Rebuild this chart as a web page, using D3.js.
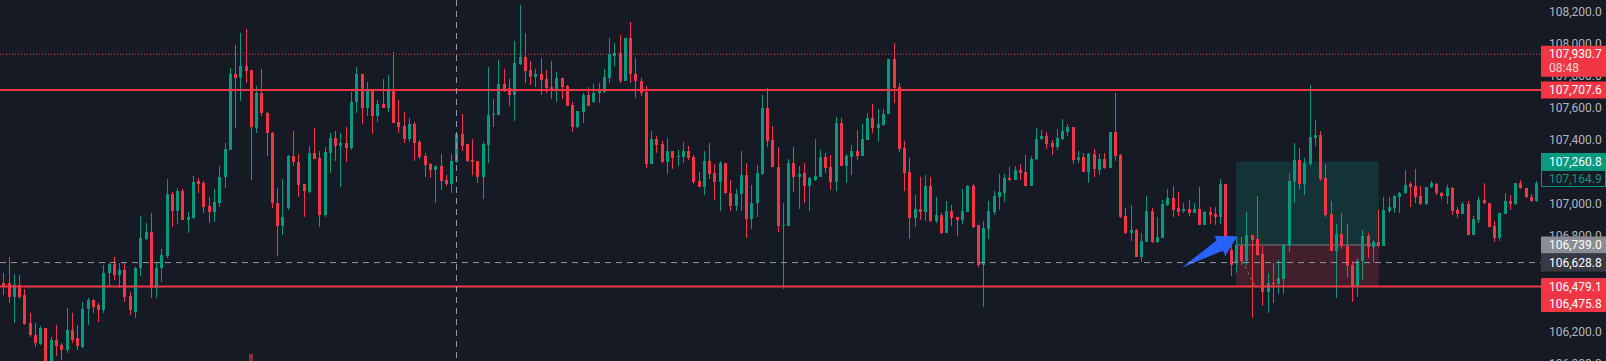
<!DOCTYPE html>
<html><head><meta charset="utf-8">
<script src="https://cdn.jsdelivr.net/npm/d3@7"></script>
<style>html,body{margin:0;padding:0;background:#161a25;overflow:hidden}</style>
</head><body><svg id="c" width="1606" height="361"></svg>
<script>
const openP=[106501,106501,106414,106489,106426,106251,106176,106120,106220,106005,
106145,106114,106083,106208,106158,106101,106339,106395,106364,106333,
106564,106620,106551,106583,106420,106320,106595,106776,106820,106470,
106595,106670,107058,106951,107076,106895,106908,107139,107126,106983,
106945,107001,107164,107333,107808,107783,107858,107833,107470,107689,
107564,107439,107001,106858,106970,107295,107258,107120,107070,107314,
107283,106926,107314,107408,107358,107376,107345,107633,107808,107595,
107708,107545,107620,107595,107714,107508,107483,107401,107495,107383,
107295,107245,107208,107233,107145,107120,107258,107433,107370,107270,
107264,107164,107364,107551,107551,107745,107720,107676,107870,107914,
107833,107789,107808,107776,107726,107708,107783,107733,107614,107476,
107570,107676,107633,107689,107695,107783,107920,107939,107764,108033,
107808,107764,107695,107245,107401,107370,107258,107326,107289,107289,
107326,107289,107139,107101,107264,107189,107133,107251,107064,106983,
107058,107176,106901,107001,107183,107595,107395,107226,106858,106858,
107251,107164,107189,107108,107145,107164,107289,107226,107133,107501,
107233,107289,107326,107295,107395,107533,107470,107489,107558,107901,
107726,107345,107195,106908,106964,106945,107108,106889,106926,106814,
106951,106914,106895,106945,107108,106864,106614,106839,106945,107039,
107064,107158,107145,107208,107195,107108,107276,107401,107420,107376,
107351,107401,107445,107476,107270,107289,107195,107308,107208,107276,
107220,107445,107301,106920,106814,106833,106664,106758,106951,106758,
106783,106989,107033,106970,106951,106964,106939,106964,106864,106945,
106933,106914,107120,106708,106626,106733,106639,106801,106776,106683,
106445,106501,106495,106526,106733,107133,107270,107120,107245,107408,
107426,107158,106933,106701,106808,106733,106614,106483,106639,106795,
106726,106758,106733,106951,106970,107039,107064,107120,107108,107045,
106995,107101,107120,107064,107045,107095,106958,106933,106995,106801,
106895,107020,107001,106858,106783,106933,107014,106995,107126,107095,
107039,107014];
const highP=[106564,106664,106558,106551,106464,106314,106251,106233,106220,106164,
106239,106126,106345,106314,106239,106383,106408,106401,106376,106614,
106626,106664,106626,106626,106445,106601,106920,106876,106939,106626,
106714,107151,107070,107095,107089,106945,107170,107158,107139,107039,
107089,107233,107376,107845,107989,108064,108089,107833,107733,107839,
107570,107445,107095,107151,107301,107451,107308,107120,107358,107470,
107326,107351,107439,107451,107439,107476,107695,107851,107808,107758,
107708,107645,107776,107801,107945,107645,107570,107533,107508,107395,
107314,107251,107233,107308,107176,107308,107439,107558,107370,107401,
107264,107383,107851,107651,107895,107839,107776,108014,108239,108064,
107889,107839,107908,107833,107889,107820,107783,107739,107633,107576,
107689,107726,107745,107751,107839,108033,108001,108051,108033,108133,
107908,107783,107733,107451,107420,107389,107408,107326,107333,107383,
107358,107301,107195,107326,107376,107245,107264,107251,107145,107089,
107326,107251,107114,107239,107676,107720,107483,107351,107001,107276,
107351,107233,107251,107164,107401,107333,107314,107301,107539,107533,
107308,107364,107458,107495,107564,107620,107589,107589,107901,108001,
107751,107389,107283,107051,107164,107176,107164,107039,106939,107014,
106989,106914,107089,107114,107120,106864,106889,107014,107076,107183,
107183,107226,107233,107245,107301,107295,107470,107458,107445,107395,
107464,107526,107495,107476,107326,107314,107314,107339,107308,107314,
107445,107689,107308,106970,106989,106839,106814,107045,106970,106914,
107020,107089,107108,107070,107001,107020,107001,107101,106951,106976,
106976,107151,107120,106776,106789,106789,106945,106801,107045,106733,
106564,106626,106645,106745,107189,107376,107345,107283,107739,107520,
107451,107245,107014,106870,106939,106870,106639,106658,106833,106814,
106770,106958,107039,107039,107051,107070,107208,107133,107214,107108,
107101,107139,107126,107070,107114,107101,106976,107008,107014,106920,
107039,107126,107001,106889,106939,107064,107051,107126,107145,107095,
107058,107139];
const lowP=[106426,106376,106251,106401,106239,106164,106101,106114,105980,105985,
106045,106020,106064,106126,106083,106095,106239,106314,106258,106314,
106476,106520,106470,106383,106301,106283,106545,106770,106408,106408,
106508,106658,106851,106870,106895,106814,106901,107064,106939,106876,
106883,106976,107095,107333,107470,107639,107751,107145,107439,107545,
107295,106970,106670,106801,106958,107233,107039,106914,107064,107276,
106851,106914,107189,107264,107101,107258,107333,107564,107495,107545,
107433,107508,107595,107570,107501,107439,107376,107383,107264,107276,
107164,107158,107001,107083,107108,107064,107251,107326,107258,107176,
107126,107026,107251,107476,107551,107695,107608,107514,107864,107751,
107739,107726,107676,107689,107651,107633,107651,107608,107445,107470,
107501,107608,107626,107626,107689,107751,107858,107751,107764,107751,
107658,107670,107220,107245,107314,107251,107183,107214,107233,107251,
107270,107120,107101,107051,107151,107020,106951,107058,106951,106951,
106951,106783,106839,106914,107176,107351,107226,106820,106464,106858,
107070,106964,107001,106951,107139,107164,107189,107083,107076,107233,
107126,107176,107270,107295,107395,107439,107383,107483,107558,107626,
107320,107076,106776,106851,106895,106889,106883,106876,106808,106814,
106858,106795,106870,106945,106845,106601,106351,106776,106926,106958,
107008,107139,107145,107145,107108,107108,107270,107395,107339,107301,
107333,107395,107420,107245,107251,107195,107126,107164,107176,107214,
107220,107264,106908,106808,106764,106664,106633,106758,106751,106751,
106783,106983,106914,106920,106939,106920,106939,106864,106864,106870,
106864,106870,106670,106545,106564,106614,106614,106283,106670,106358,
106314,106376,106433,106433,106695,107001,107089,107051,107233,107358,
107139,106914,106701,106408,106714,106533,106383,106414,106520,106658,
106626,106726,106733,106939,106939,106939,107058,106976,107001,106989,
106989,107095,107051,107026,106995,106926,106908,106933,106801,106801,
106876,106995,106851,106758,106764,106933,106958,106989,107089,107033,
107008,107008];
const closeP=[106476,106414,106489,106414,106245,106176,106126,106220,106000,106145,
106108,106083,106208,106145,106108,106339,106395,106351,106333,106564,
106620,106551,106583,106414,106333,106595,106783,106820,106470,106595,
106676,107058,106951,107076,106895,106914,107133,107120,106976,106945,
107008,107164,107339,107808,107783,107858,107826,107476,107689,107564,
107439,107001,106858,106914,107295,107258,107114,107076,107314,107276,
106926,107320,107408,107358,107376,107345,107633,107808,107595,107714,
107545,107620,107595,107714,107501,107476,107401,107495,107376,107289,
107239,107208,107233,107139,107120,107264,107433,107358,107264,107258,
107164,107370,107551,107558,107745,107701,107676,107876,107914,107826,
107789,107808,107770,107720,107708,107783,107726,107608,107476,107576,
107676,107608,107689,107714,107789,107933,107939,107764,108033,107808,
107764,107689,107245,107401,107364,107258,107326,107283,107295,107326,
107283,107133,107101,107264,107183,107133,107251,107064,106983,107058,
107176,106901,107001,107189,107595,107389,107226,106858,106864,107251,
107164,107183,107108,107158,107170,107289,107220,107133,107501,107233,
107295,107326,107295,107401,107533,107470,107495,107558,107901,107720,
107339,107189,106908,106964,106945,107108,106889,106926,106814,106951,
106908,106895,106951,107108,106851,106614,106845,106951,107045,107070,
107158,107145,107208,107189,107108,107276,107401,107420,107370,107351,
107408,107451,107476,107270,107289,107195,107308,107214,107276,107220,
107445,107295,106914,106814,106833,106664,106764,106951,106758,106789,
106995,107033,106958,106945,106964,106939,106964,106864,106945,106926,
106914,107120,106708,106614,106739,106639,106801,106770,106676,106445,
106501,106495,106533,106739,107139,107270,107120,107251,107414,107426,
107151,106926,106701,106808,106733,106608,106483,106639,106795,106726,
106758,106733,106958,106976,107045,107064,107114,107101,107039,106995,
107101,107126,107064,107045,107095,106951,106933,106995,106801,106901,
107020,107001,106851,106783,106939,107014,106995,107126,107095,107039,
107014,107126];

const yTicks=[108200,108000,107800,107600,107400,107200,107000,106800,106600,106400,106200,106000];
const levelLines=[107707.6,106479.1];       // solid horizontal lines
const dottedLevel=107930.7;                  // dotted price line
const countdownText="08:48";
const posEntry=106739.0, posTarget=107260.8, posStop=106475.8;
const posStartIdx=234, posEndIdx=261.1;
const crossIdx=86, crossPrice=106628.8;
const lastLabelPrice=107164.9;
const arrowFrom=[223.7,106597], arrowTo=[234.25,106794];
const pathIdx=[235.2,237.6], pathPrice=[106640,106480];
const markerIdx=47;

const W=1606,H=361,plotR=1541;
const n=openP.length;
const x=d3.scaleLinear().domain([0,n-1]).range([3.3,1536.2]);
const y=d3.scaleLinear().domain([106200,108200]).range([331.2,11.2]);
const fmt=d3.format(",.1f");
const GREEN="#089981",RED="#F23645";
const FONT="Roboto, 'Liberation Sans', sans-serif";

const svg=d3.select('#c');
svg.append('rect').attr('width',W).attr('height',H).attr('fill','#161a25');
svg.append('defs').append('clipPath').attr('id','clip').append('rect').attr('width',plotR).attr('height',H);
const plot=svg.append('g').attr('clip-path','url(#clip)');

// position tool
const px0=x(posStartIdx),px1=x(posEndIdx);
plot.append('rect').attr('x',px0).attr('y',y(posTarget)).attr('width',px1-px0)
  .attr('height',y(posEntry)-y(posTarget)).attr('fill',GREEN).attr('fill-opacity',0.2);
plot.append('rect').attr('x',px0).attr('y',y(posEntry)).attr('width',px1-px0)
  .attr('height',y(posStop)-y(posEntry)).attr('fill',RED).attr('fill-opacity',0.2);
plot.append('line').attr('x1',px0).attr('x2',px1).attr('y1',y(posEntry)).attr('y2',y(posEntry))
  .attr('stroke','#787b86').attr('stroke-width',1);
plot.append('line').attr('x1',x(pathIdx[0])).attr('x2',x(pathIdx[1]))
  .attr('y1',y(pathPrice[0])).attr('y2',y(pathPrice[1]))
  .attr('stroke','#787b86').attr('stroke-dasharray','3,3').attr('stroke-width',1);

// event marker
plot.append('rect').attr('x',Math.round(x(markerIdx))-2).attr('y',354).attr('width',4).attr('height',8)
  .attr('fill','#8a2c38');

// candles
const cg=plot.append('g');
for(let i=0;i<n;i++){
  const up=closeP[i]>=openP[i];
  const col=up?GREEN:RED;
  const cx=Math.round(x(i));
  cg.append('line').attr('x1',cx+0.5).attr('x2',cx+0.5).attr('y1',y(highP[i])).attr('y2',y(lowP[i]))
    .attr('stroke',col).attr('stroke-width',1);
  const t=y(Math.max(openP[i],closeP[i])), b=y(Math.min(openP[i],closeP[i]));
  cg.append('rect').attr('x',cx-1).attr('y',t).attr('width',3).attr('height',Math.max(1,b-t)).attr('fill',col);
}

// level lines
levelLines.forEach(p=>{
  plot.append('line').attr('x1',0).attr('x2',plotR).attr('y1',y(p)).attr('y2',y(p))
    .attr('stroke',RED).attr('stroke-width',2);
});
plot.append('line').attr('x1',0).attr('x2',plotR).attr('y1',y(dottedLevel)).attr('y2',y(dottedLevel))
  .attr('stroke',RED).attr('stroke-width',1).attr('stroke-dasharray','1,2');

// blue arrow
(function(){
  const T=[x(arrowFrom[0]),y(arrowFrom[1])],P=[x(arrowTo[0]),y(arrowTo[1])];
  const dx=P[0]-T[0],dy=P[1]-T[1],L=Math.hypot(dx,dy);
  const u=[dx/L,dy/L],nn=[u[1],-u[0]];
  const pt=(t,o)=>[T[0]+u[0]*t+nn[0]*o,T[1]+u[1]*t+nn[1]*o];
  const tb=L*0.69;
  const pts=[T,pt(tb,-5.5),pt(tb,-11),P,pt(tb,11.5),pt(tb,6.5)];
  plot.append('polygon').attr('points',pts.map(p=>p.join(',')).join(' ')).attr('fill','#2962FF');
})();

// crosshair
plot.append('line').attr('x1',0).attr('x2',plotR).attr('y1',y(crossPrice)).attr('y2',y(crossPrice))
  .attr('stroke','#9598a1').attr('stroke-dasharray','6,5').attr('stroke-width',1);
svg.append('line').attr('x1',Math.round(x(crossIdx))+0.5).attr('x2',Math.round(x(crossIdx))+0.5).attr('y1',0).attr('y2',H)
  .attr('stroke','#9598a1').attr('stroke-dasharray','6,5').attr('stroke-width',1);

// price label layout (computed first so covered tick labels can be skipped)
const LX=plotR, LW=W-plotR, LH=17;
const yd=y(dottedLevel);
const boxes=[{top:yd-8.5,h:31,bg:RED,lines:[[fmt(dottedLevel),'#ffffff',1,0],[countdownText,'#ffffff',0.8,13.5]]}];
const stack=[
  {p:levelLines[0],bg:RED,fg:'#ffffff'},
  {p:posTarget,bg:GREEN,fg:'#ffffff'},
  {p:lastLabelPrice,bg:'#161a25',fg:GREEN,stroke:GREEN},
  {p:posEntry,bg:'#8a8d96',fg:'#ffffff'},
  {p:crossPrice,bg:'#363a45',fg:'#ffffff',h:18},
  {p:levelLines[1],bg:RED,fg:'#ffffff'},
  {p:posStop,bg:RED,fg:'#ffffff'}
];
let prevBottom=-1e9;
stack.forEach(d=>{
  const h=d.h||LH;
  let top=y(d.p)-h/2;
  if(top<prevBottom) top=prevBottom;
  boxes.push({top,h,bg:d.bg,stroke:d.stroke,lines:[[fmt(d.p),d.fg,1,null]]});
  prevBottom=top+h;
});
// union of covered spans
const spans=boxes.map(b=>[b.top,b.top+b.h]).sort((a,b)=>a[0]-b[0]);
const merged=[];
spans.forEach(s=>{const m=merged[merged.length-1]; if(m&&s[0]<=m[1]+0.5) m[1]=Math.max(m[1],s[1]); else merged.push(s.slice());});
const hidden=v=>{const c=y(v);return merged.some(m=>c-m[0]>=4&&m[1]-c>=4);};

// axis
const axis=d3.axisRight(y).tickValues(yTicks.filter(v=>!hidden(v))).tickFormat(fmt).tickSize(0).tickPadding(8);
const ag=svg.append('g').attr('transform',`translate(${plotR},0)`).call(axis);
ag.select('.domain').remove();
ag.selectAll('text').attr('fill','#b2b5be').style('font-family',FONT).style('font-size','12px');

// draw label boxes
boxes.forEach(b=>{
  const r=svg.append('rect').attr('x',LX).attr('y',b.top).attr('width',LW).attr('height',b.h).attr('fill',b.bg);
  if(b.stroke) r.attr('x',LX+0.5).attr('width',LW-1).attr('y',b.top+0.5).attr('height',b.h-1).attr('stroke',b.stroke).attr('stroke-width',1);
  b.lines.forEach(([s,col,op,off])=>{
    const cy=off===null?b.top+b.h/2:b.top+8.5+off;
    svg.append('text').attr('x',LX+8).attr('y',cy).attr('dy','0.35em').text(s)
      .attr('fill',col).attr('fill-opacity',op).style('font-family',FONT).style('font-size','12px');
  });
});
</script></body></html>
